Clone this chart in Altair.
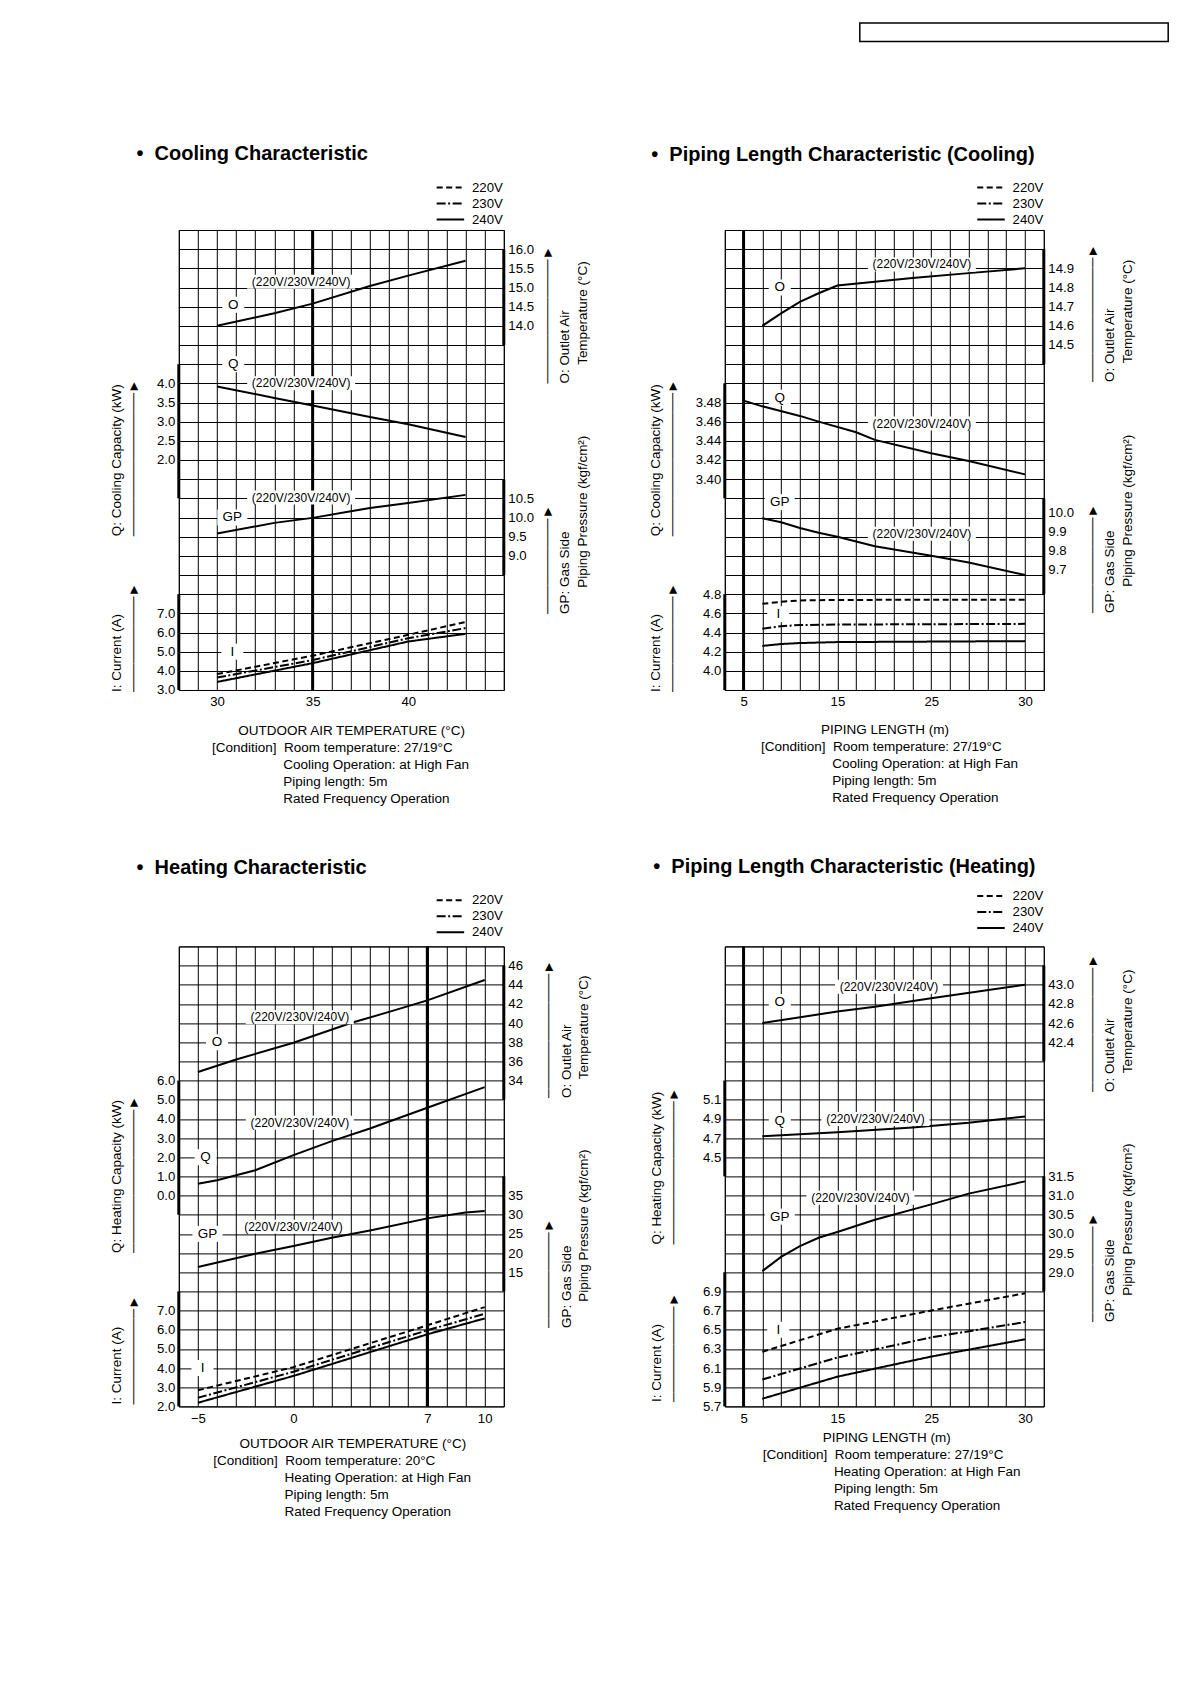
import altair as alt
import pandas as pd

FONT = "Liberation Sans, Arial, Helvetica, DejaVu Sans"
NB = "\u00a0"
ZW = "\u200b"

# ---------------- values ----------------
VOLTS = ["220V", "230V", "240V"]
VOLT_TEXT = "(220V/230V/240V)"

# Cooling characteristic (x: outdoor air temperature, deg C)
COOL_T = [30, 33, 35, 38, 40, 43]
COOL_O = [14.0, 14.33, 14.58, 15.04, 15.31, 15.70]
COOL_Q = [3.92, 3.62, 3.42, 3.12, 2.93, 2.60]
COOL_GP = [9.58, 9.86, 9.99, 10.25, 10.38, 10.59]
COOL_I_T = [30, 35, 40, 43]
COOL_I = {"220V": [3.83, 4.79, 5.88, 6.55],
          "230V": [3.65, 4.56, 5.70, 6.23],
          "240V": [3.42, 4.40, 5.53, 5.93]}

# Piping length characteristic, cooling (x: piping length, m)
PC_O_L = [7, 9, 11, 13, 15, 19, 23, 27, 30]
PC_O = [14.60, 14.665, 14.725, 14.77, 14.81, 14.83, 14.85, 14.875, 14.90]
PC_Q_L = [5, 7, 11, 13, 17, 19, 25, 27, 30]
PC_Q = [3.482, 3.476, 3.466, 3.460, 3.449, 3.441, 3.427, 3.419, 3.405]
PC_GP_L = [7, 9, 11, 13, 15, 19, 25, 27, 30]
PC_GP = [9.996, 9.975, 9.945, 9.92, 9.90, 9.85, 9.80, 9.765, 9.70]
PC_I_L = [7, 9, 11, 15, 30]
PC_I = {"220V": [4.70, 4.72, 4.735, 4.74, 4.742],
        "230V": [4.44, 4.466, 4.478, 4.483, 4.49],
        "240V": [4.26, 4.28, 4.29, 4.30, 4.31]}

# Heating characteristic (x: outdoor air temperature, deg C)
HT_O_T = [-5, -3, 0, 3, 5, 7, 10]
HT_O = [34.9, 36.2, 37.94, 40.0, 41.17, 42.37, 44.5]
HT_Q_T = [-5, -4, -2, 0, 2, 4, 7, 10]
HT_Q = [0.62, 0.80, 1.32, 2.11, 2.84, 3.50, 4.58, 5.66]
HT_GP_T = [-5, -2, 0, 2, 4, 7, 9, 10]
HT_GP = [16.35, 19.8, 21.85, 24.0, 25.9, 29.05, 30.6, 30.95]
HT_I_T = [-5, 0, 7, 10]
HT_I = {"220V": [2.84, 4.05, 6.23, 7.18],
        "230V": [2.45, 3.81, 5.97, 6.83],
        "240V": [2.19, 3.59, 5.76, 6.59]}

# Piping length characteristic, heating (x: piping length, m)
PH_O_L = [7, 15, 19, 25, 30]
PH_O = [42.60, 42.72, 42.77, 42.86, 43.0]
PH_Q_L = [7, 15, 23, 27, 30]
PH_Q = [4.72, 4.76, 4.81, 4.86, 4.925]
PH_GP_L = [7, 9, 11, 13, 15, 19, 25, 27, 30]
PH_GP = [29.03, 29.40, 29.68, 29.90, 30.05, 30.37, 30.77, 31.05, 31.37]
PH_I_L = [7, 15, 25, 30]
PH_I = {"220V": [6.27, 6.51, 6.70, 6.88],
        "230V": [5.98, 6.21, 6.42, 6.58],
        "240V": [5.78, 6.01, 6.22, 6.40]}

# axis tick values / labels
COOL_X_GRID = list(range(28, 46))
COOL_X_LABELS = [30, 35, 40]
COOL_X_REF = 35
PIPE_X_DOMAIN = [3, 5, 25, 30, 31]
PIPE_X_GRID = [3, 5, 7, 9, 11, 13, 15, 17, 19, 21, 23, 25, 26, 27, 28, 29, 30, 31]
PIPE_X_LABELS = [5, 15, 25, 30]
PIPE_X_REF = 5
HT_X_GRID = list(range(-6, 12))
HT_X_LABELS = [-5, 0, 7, 10]
HT_X_REF = 7

TITLES = ["Cooling Characteristic", "Piping Length Characteristic (Cooling)",
          "Heating Characteristic", "Piping Length Characteristic (Heating)"]
COND_COOL = ["Room temperature: 27/19°C", "Cooling Operation: at High Fan",
             "Piping length: 5m", "Rated Frequency Operation"]
COND_HEAT = ["Room temperature: 20°C", "Heating Operation: at High Fan",
             "Piping length: 5m", "Rated Frequency Operation"]
COND_PHEAT = ["Room temperature: 27/19°C", "Heating Operation: at High Fan",
              "Piping length: 5m", "Rated Frequency Operation"]

# ---------------- layout ----------------
W_L, W_R, H = 325, 319, 460
ROWS = 24
DASHES = [[6, 3.5], [9, 2.5, 2, 2.5], [1, 0]]
LEG_PATH = "M-2.5,0H2.5"


def arrow(n):
    return "\u2500" * n + "\u25BA"


def pad(n, s):
    return ZW + NB * n + s


def xtitle(head, head_pad, cond):
    return [pad(head_pad, head), "[Condition]" + NB * 2 + cond[0]] + [pad(19, c) for c in cond[1:]]


def x_def(xc):
    sc = dict(domain=xc["domain"], nice=False, zero=False)
    if "range" in xc:
        sc["range"] = xc["range"]
    labs = ",".join(str(v) for v in xc["labels"])
    return alt.X("x:Q", scale=alt.Scale(**sc),
                 axis=alt.Axis(values=xc["grid"], grid=True, format="d",
                               labelExpr=f"indexof([{labs}], datum.value) >= 0 ? datum.label : ''",
                               labelPadding=6, labelFlush=False, labelOverlap=False,
                               title=xc["title"], titleX=xc["tx"], titleY=xc["ty"],
                               titleAlign="left", titleAnchor="start", titleBaseline="top",
                               titleLineHeight=17))


def y_def(q):
    return alt.Y("y:Q", scale=alt.Scale(domain=q["domain"], nice=False, zero=False),
                 axis=alt.Axis(orient=q["side"], values=q["labels"], format=q["fmt"], grid=False,
                               labelPadding=4, labelFlush=False, labelOverlap=False,
                               labelOffset=q.get("loff", 0),
                               title=q["title"], titleX=q["tx"], titleY=q["ty"], titleAngle=270,
                               titleAlign="left", titleBaseline="middle", titleLineHeight=17.5))


def box(w, h):
    r = h / w
    return f"M-1,-{r:.4f}H1V{r:.4f}H-1Z", w * w


def label_layers(xc, q, text, x, y, w, h, size):
    shape, area = box(w, h)
    df = pd.DataFrame({"x": [x], "y": [y], "t": [text]})
    b = alt.Chart(df).mark_point(shape=shape, size=area, filled=True, color="white",
                                 opacity=1, strokeWidth=0).encode(x=x_def(xc), y=y_def(q))
    t = alt.Chart(df).mark_text(font=FONT, fontSize=size, color="black", align="center",
                                baseline="middle").encode(x=x_def(xc), y=y_def(q), text="t:N")
    return [b, t]


def q_layer(xc, q, xs, series, letter, volt=None, legend=None):
    layers = []
    if isinstance(series, dict):
        rows = [{"x": x, "y": y, "v": v} for v, ys in series.items() for x, y in zip(xs, ys)]
        df = pd.DataFrame(rows)
        layers.append(alt.Chart(df).mark_line(color="black", strokeWidth=2).encode(
            x=x_def(xc), y=y_def(q),
            strokeDash=alt.StrokeDash("v:N", scale=alt.Scale(domain=VOLTS, range=DASHES),
                                      legend=legend)))
    else:
        df = pd.DataFrame({"x": xs, "y": series})
        layers.append(alt.Chart(df).mark_line(color="black", strokeWidth=2).encode(
            x=x_def(xc), y=y_def(q)))
    edge = xc["domain"][0] if q["side"] == "left" else xc["domain"][-1]
    bar = pd.DataFrame({"x": [edge], "y": [q["bar"][0]], "y2": [q["bar"][1]]})
    layers.append(alt.Chart(bar).mark_rule(color="black", strokeWidth=3).encode(
        x=x_def(xc), y=y_def(q), y2="y2:Q"))
    if volt is not None:
        layers += label_layers(xc, q, VOLT_TEXT, volt[0], volt[1], 108, 14, 12)
    lw = 30 if len(letter[0]) > 1 else 22
    layers += label_layers(xc, q, letter[0], letter[1], letter[2], lw, 16, 13.5)
    return alt.layer(*layers)


def legend(lx, ly):
    return alt.Legend(title=None, orient="none", legendX=lx, legendY=ly, direction="vertical",
                      symbolType=LEG_PATH, symbolSize=121, symbolStrokeWidth=2,
                      symbolStrokeColor="black", symbolFillColor="transparent",
                      labelFont=FONT, labelFontSize=13.2, labelColor="black", labelOffset=15,
                      rowPadding=2, padding=0)


def panel(xc, width, qlayers, title, dx, offset):
    grid_df = pd.DataFrame({"x": [xc["domain"][0]], "gy": [0]})
    grid = alt.Chart(grid_df).mark_point(opacity=0).encode(
        x=x_def(xc),
        y=alt.Y("gy:Q", scale=alt.Scale(domain=[0, ROWS], nice=False, zero=False),
                axis=alt.Axis(orient="left", values=list(range(ROWS + 1)), grid=True,
                              labels=False, ticks=False, domain=False, title=None)))
    ref = alt.Chart(pd.DataFrame({"x": [xc["ref"]]})).mark_rule(
        color="black", strokeWidth=3).encode(x=x_def(xc))
    return alt.layer(grid, ref, *qlayers).resolve_scale(y="independent").properties(
        width=width, height=H,
        title=alt.TitleParams("\u2022" + NB * 2 + title, anchor="start", frame="group",
                              dx=dx, dy=17, offset=offset, baseline="alphabetic", fontSize=20,
                              fontWeight="bold", font=FONT, color="black"))


# ---------- Cooling ----------
xc = dict(domain=[28, 45], grid=COOL_X_GRID, labels=COOL_X_LABELS, ref=COOL_X_REF,
          title=xtitle("OUTDOOR AIR TEMPERATURE (°C)", 7, COND_COOL), tx=32.7, ty=33.3)
qO = dict(domain=[4.5, 16.5], side="right", labels=[14.0, 14.5, 15.0, 15.5, 16.0], fmt=".1f",
          bar=[13.5, 16.0], title=[arrow(13), "O: Outlet Air", pad(5, "Temperature (°C)")],
          tx=43.4, ty=153.1)
qQ = dict(domain=[-4.0, 8.0], side="left", labels=[2.0, 2.5, 3.0, 3.5, 4.0], fmt=".1f",
          bar=[1.0, 4.5], title=["Q: Cooling Capacity (kW)", arrow(15)], tx=-62.3, ty=305.8)
qG = dict(domain=[5.5, 17.5], side="right", labels=[9.0, 9.5, 10.0, 10.5], fmt=".1f",
          bar=[8.5, 11.0], title=[arrow(10), "GP: Gas Side", pad(7, "Piping Pressure (kgf/cm²)")],
          tx=43.4, ty=383.5)
qI = dict(domain=[3.0, 27.0], side="left", labels=[3.0, 4.0, 5.0, 6.0, 7.0], fmt=".1f",
          bar=[3.0, 8.0], title=["I: Current (A)", arrow(10)], tx=-62.3, ty=461.5)
cool = panel(xc, W_L, [
    q_layer(xc, qO, COOL_T, COOL_O, ("O", 30.85, 14.55), (34.4, 15.15)),
    q_layer(xc, qQ, COOL_T, COOL_Q, ("Q", 30.85, 4.5), (34.4, 4.0)),
    q_layer(xc, qG, COOL_T, COOL_GP, ("GP", 30.8, 10.0), (34.4, 10.52)),
    q_layer(xc, qI, COOL_I_T, COOL_I, ("I", 30.8, 5.0), None, legend(265, -49)),
], TITLES[0], -42.3, 18.2)

# ---------- Piping cooling ----------
cw = W_R / 17
xp = dict(domain=PIPE_X_DOMAIN, range=[0, cw, 11 * cw, 16 * cw, W_R], grid=PIPE_X_GRID,
          labels=PIPE_X_LABELS, ref=PIPE_X_REF,
          title=xtitle("PIPING LENGTH (m)", 16, COND_COOL), tx=35.7, ty=32.3)
pO = dict(domain=[12.7, 15.1], side="right", labels=[14.5, 14.6, 14.7, 14.8, 14.9], fmt=".1f",
          bar=[14.4, 15.0], title=[arrow(13), "O: Outlet Air", pad(5, "Temperature (°C)")],
          tx=48.4, ty=151.5)
pQ = dict(domain=[3.18, 3.66], side="left", labels=[3.40, 3.42, 3.44, 3.46, 3.48], fmt=".2f",
          bar=[3.38, 3.50], title=["Q: Cooling Capacity (kW)", arrow(15)], tx=-69.3, ty=305.8)
pG = dict(domain=[9.1, 11.5], side="right", labels=[9.7, 9.8, 9.9, 10.0], fmt=".1f", loff=-5,
          bar=[9.6, 10.1], title=[arrow(10), "GP: Gas Side", pad(7, "Piping Pressure (kgf/cm²)")],
          tx=48.4, ty=382.5)
pI = dict(domain=[3.8, 8.6], side="left", labels=[4.0, 4.2, 4.4, 4.6, 4.8], fmt=".1f",
          bar=[3.8, 4.8], title=["I: Current (A)", arrow(10)], tx=-69.3, ty=461.5)
pcool = panel(xp, W_R, [
    q_layer(xp, pO, PC_O_L, PC_O, ("O", 8.86, 14.8), (24.0, 14.92)),
    q_layer(xp, pQ, PC_Q_L, PC_Q, ("Q", 8.86, 3.485), (24.0, 3.458)),
    q_layer(xp, pG, PC_GP_L, PC_GP, ("GP", 8.86, 10.08), (24.0, 9.915)),
    q_layer(xp, pI, PC_I_L, PC_I, ("I", 8.7, 4.59), None, legend(259.6, -49)),
], TITLES[1], -73.6, 16.5)

# ---------- Heating ----------
xh = dict(domain=[-6, 11], grid=HT_X_GRID, labels=HT_X_LABELS, ref=HT_X_REF,
          title=xtitle("OUTDOOR AIR TEMPERATURE (°C)", 7, COND_HEAT), tx=34, ty=30.3)
hO = dict(domain=[0, 48], side="right", labels=[34, 36, 38, 40, 42, 44, 46], fmt="d",
          bar=[32, 46], title=[arrow(13), "O: Outlet Air", pad(5, "Temperature (°C)")],
          tx=45, ty=151)
hQ = dict(domain=[-11, 13], side="left", labels=[0, 1, 2, 3, 4, 5, 6], fmt=".1f",
          bar=[-1, 6], title=["Q: Heating Capacity (kW)", arrow(15)], tx=-62.6, ty=306)
hG = dict(domain=[-20, 100], side="right", labels=[15, 20, 25, 30, 35], fmt="d",
          bar=[10, 40], title=[arrow(10), "GP: Gas Side", pad(7, "Piping Pressure (kgf/cm²)")],
          tx=45, ty=381)
hI = dict(domain=[2, 26], side="left", labels=[2, 3, 4, 5, 6, 7], fmt=".1f",
          bar=[2, 8], title=["I: Current (A)", arrow(10)], tx=-62.6, ty=457.7)
heat = panel(xh, W_L, [
    q_layer(xh, hO, HT_O_T, HT_O, ("O", -4.0, 38.0), (0.33, 40.6)),
    q_layer(xh, hQ, HT_Q_T, HT_Q, ("Q", -4.6, 2.0), (0.33, 3.8)),
    q_layer(xh, hG, HT_GP_T, HT_GP, ("GP", -4.5, 25.0), (0.0, 26.85)),
    q_layer(xh, hI, HT_I_T, HT_I, ("I", -4.76, 4.0), None, legend(265, -52.8)),
], TITLES[2], -42.3, 16.8)

# ---------- Piping heating ----------
xq = dict(domain=PIPE_X_DOMAIN, range=[0, cw, 11 * cw, 16 * cw, W_R], grid=PIPE_X_GRID,
          labels=PIPE_X_LABELS, ref=PIPE_X_REF,
          title=xtitle("PIPING LENGTH (m)", 16, COND_PHEAT), tx=37.4, ty=24.6)
rO = dict(domain=[38.6, 43.4], side="right", labels=[42.4, 42.6, 42.8, 43.0], fmt=".1f",
          bar=[42.2, 43.2], title=[arrow(13), "O: Outlet Air", pad(5, "Temperature (°C)")],
          tx=48.4, ty=145)
rQ = dict(domain=[1.9, 6.7], side="left", labels=[4.5, 4.7, 4.9, 5.1], fmt=".1f",
          bar=[4.3, 5.3], title=["Q: Heating Capacity (kW)", arrow(15)], tx=-68.3, ty=297.7)
rG = dict(domain=[25.5, 37.5], side="right", labels=[29.0, 29.5, 30.0, 30.5, 31.0, 31.5], fmt=".1f",
          bar=[28.5, 31.5], title=[arrow(10), "GP: Gas Side", pad(7, "Piping Pressure (kgf/cm²)")],
          tx=48.4, ty=375)
rI = dict(domain=[5.7, 10.5], side="left", labels=[5.7, 5.9, 6.1, 6.3, 6.5, 6.7, 6.9], fmt=".1f",
          bar=[5.7, 7.1], title=["I: Current (A)", arrow(10)], tx=-68.3, ty=455)
pheat = panel(xq, W_R, [
    q_layer(xq, rO, PH_O_L, PH_O, ("O", 8.86, 42.82), (20.5, 42.98)),
    q_layer(xq, rQ, PH_Q_L, PH_Q, ("Q", 8.86, 4.88), (19.06, 4.9)),
    q_layer(xq, rG, PH_GP_L, PH_GP, ("GP", 8.86, 30.45), (17.46, 30.94)),
    q_layer(xq, rI, PH_I_L, PH_I, ("I", 8.7, 6.5), None, legend(259.6, -57.1)),
], TITLES[3], -71.6, 13.1)


def indep(c):
    return c.resolve_scale(x="independent", y="independent", strokeDash="independent") \
            .resolve_legend(strokeDash="independent")


# with flush bounds a nested concat counts as zero-height, so spacing = top-to-top distance
row1 = indep(alt.hconcat(cool, pcool, spacing=221, bounds="flush"))
row2 = indep(alt.hconcat(heat, pheat, spacing=221, bounds="flush"))
inner = indep(alt.vconcat(row1, row2, spacing=716.4, bounds="flush"))

dummy = pd.DataFrame({"a": [0]})
spacer = alt.Chart(dummy).mark_point(opacity=0).encode(x=alt.value(0), y=alt.value(0)).properties(
    width=681, height=18.4, view=alt.ViewBackground(stroke="transparent"))
header = alt.Chart(dummy).mark_point(opacity=0).encode(x=alt.value(0), y=alt.value(0)).properties(
    width=308.4, height=18.4, view=alt.ViewBackground(stroke="black", strokeWidth=1.5))
header_row = alt.hconcat(spacer, header, spacing=0, bounds="flush")

chart = indep(alt.vconcat(header_row, inner, spacing=206.9, bounds="flush")).properties(
    padding={"left": 99.8, "top": 11.1, "right": 5, "bottom": 5}, background="white"
).configure(font=FONT).configure_view(stroke="black", strokeWidth=1).configure_axis(
    labelFont=FONT, labelFontSize=13.2, labelColor="black", titleFont=FONT, titleFontSize=13.5,
    titleFontWeight="normal", titleColor="black", domain=False, ticks=False,
    gridColor="black", gridWidth=1, gridOpacity=1)

chart.save("out.html", embed_options={"renderer": "svg", "actions": False})
